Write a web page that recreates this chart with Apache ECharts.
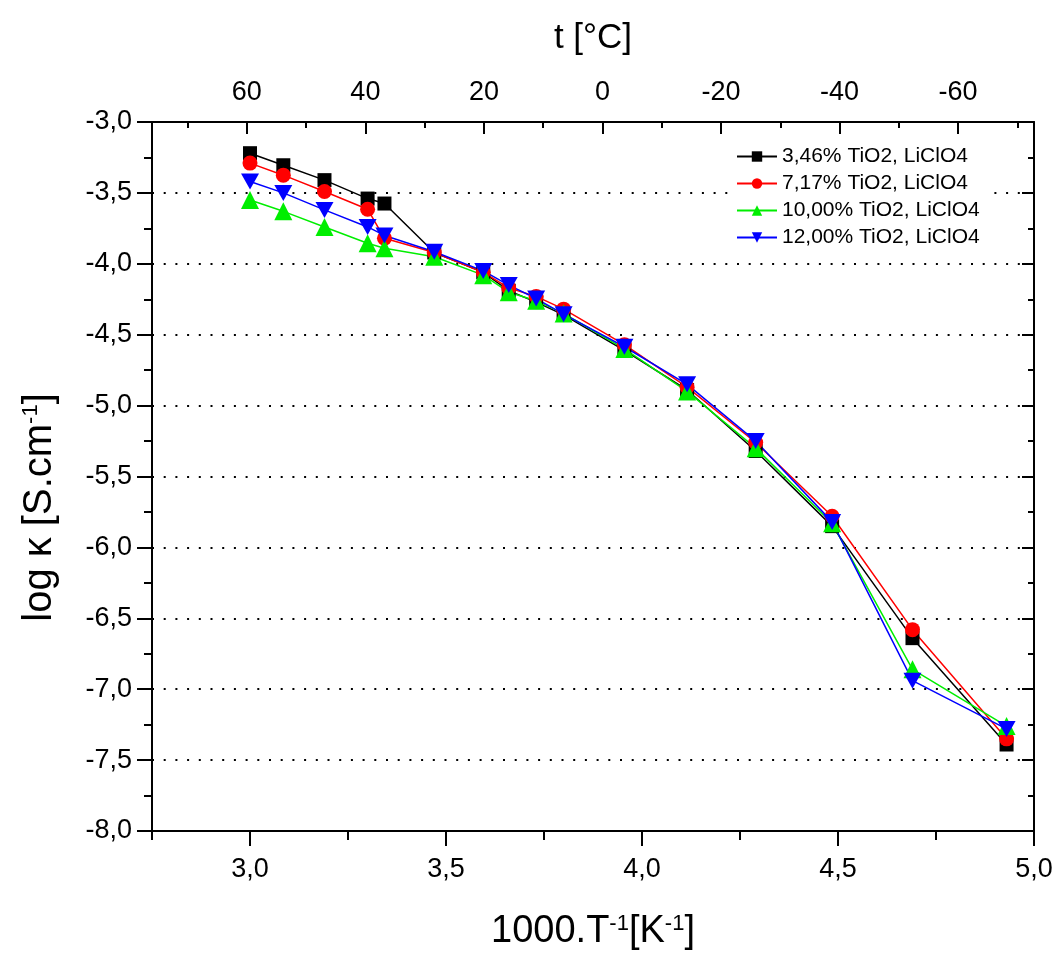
<!DOCTYPE html>
<html>
<head>
<meta charset="utf-8">
<script src="https://cdn.jsdelivr.net/npm/echarts@6/dist/echarts.min.js"></script>
<style>
  html, body { margin: 0; padding: 0; background: #fff; }
  #chart { width: 1058px; height: 956px; }
</style>
</head>
<body>
<div id="chart"></div>
<script>
// 1000/T values (x)
var invT = [3.00, 3.085, 3.19, 3.30, 3.343, 3.47, 3.595, 3.66, 3.73, 3.80, 3.955, 4.115, 4.29, 4.485, 4.69, 4.93];
// log kappa for each composition
var tio2_346 = [-3.22, -3.305, -3.41, -3.54, -3.575, -3.92, -4.06, -4.19, -4.27, -4.36, -4.61, -4.89, -5.32, -5.85, -6.64, -7.39];
var tio2_717 = [-3.29, -3.375, -3.49, -3.615, -3.82, -3.92, -4.06, -4.17, -4.23, -4.32, -4.57, -4.87, -5.26, -5.78, -6.58, -7.35];
var tio2_1000 = [-3.55, -3.63, -3.74, -3.855, -3.89, -3.95, -4.08, -4.20, -4.26, -4.35, -4.60, -4.90, -5.30, -5.83, -6.86, -7.26];
var tio2_1200 = [-3.42, -3.50, -3.62, -3.74, -3.80, -3.915, -4.05, -4.15, -4.245, -4.355, -4.585, -4.85, -5.25, -5.82, -6.94, -7.28];

var seriesNames = ['3,46% TiO2, LiClO4', '7,17% TiO2, LiClO4', '10,00% TiO2, LiClO4', '12,00% TiO2, LiClO4'];

// tick labels
var xTicks = [3.0, 3.5, 4.0, 4.5, 5.0];
var xMinor = [2.75, 3.25, 3.75, 4.25, 4.75];
var tTicks = [60, 40, 20, 0, -20, -40, -60];
var tMinor = [70, 50, 30, 10, -10, -30, -50, -70];

var font = '"Liberation Sans", Arial, sans-serif';

function pairs(ys) {
  return invT.map(function (x, i) { return [x, ys[i]]; });
}
function comma(v) {
  return v.toFixed(1).replace('.', ',');
}

var axisLine = { show: true, onZero: false, lineStyle: { color: '#000', width: 2 } };
var labelStyle = { color: '#000', fontSize: 27, fontFamily: font };
var supRich = {
  sup: { fontSize: 22, fontFamily: font, color: '#000', verticalAlign: 'top', padding: [0, 0, 16, 0] }
};

var downTri = 'path://M0,0 L10,0 L5,9 Z';

var myChart = echarts.init(document.getElementById('chart'));
var option = {
  animation: false,
  backgroundColor: '#fff',
  grid: { left: 152, right: 24, top: 122, bottom: 124 },
  legend: {
    orient: 'vertical',
    left: 730,
    top: 144,
    padding: [2, 6],
    backgroundColor: '#fff',
    itemWidth: 40,
    itemHeight: 13,
    itemGap: 6,
    textStyle: { color: '#000', fontSize: 21, fontFamily: font },
    data: seriesNames
  },
  xAxis: [
    {
      type: 'value', position: 'bottom', min: 2.75, max: 5.0,
      axisLine: axisLine,
      axisTick: { show: true, length: 15, customValues: xTicks, lineStyle: { color: '#000', width: 2 } },
      axisLabel: { customValues: xTicks, margin: 25, formatter: comma, ...labelStyle },
      splitLine: { show: false },
      name: '1000.T{sup|-1}[K{sup|-1}]',
      nameLocation: 'middle',
      nameGap: 82,
      nameTextStyle: { fontSize: 38, fontFamily: font, color: '#000', rich: supRich }
    },
    {
      type: 'value', position: 'bottom', min: 2.75, max: 5.0,
      axisLine: { show: false, onZero: false },
      axisTick: { show: true, length: 9, customValues: xMinor, lineStyle: { color: '#000', width: 2 } },
      axisLabel: { show: false },
      splitLine: { show: false }
    },
    {
      type: 'value', position: 'top', min: -72.8, max: 76, inverse: true,
      axisLine: axisLine,
      axisTick: { show: true, inside: true, length: 12, customValues: tTicks, lineStyle: { color: '#000', width: 2 } },
      axisLabel: { customValues: tTicks, margin: 16, ...labelStyle },
      splitLine: { show: false },
      name: 't [°C]',
      nameLocation: 'middle',
      nameGap: 66,
      nameTextStyle: { fontSize: 35, fontFamily: font, color: '#000' }
    },
    {
      type: 'value', position: 'top', min: -72.8, max: 76, inverse: true,
      axisLine: { show: false, onZero: false },
      axisTick: { show: true, inside: true, length: 6, customValues: tMinor, lineStyle: { color: '#000', width: 2 } },
      axisLabel: { show: false },
      splitLine: { show: false }
    }
  ],
  yAxis: [
    {
      type: 'value', position: 'left', min: -8, max: -3, interval: 0.5,
      axisLine: axisLine,
      axisTick: { show: true, length: 15, lineStyle: { color: '#000', width: 2 } },
      minorTick: { show: true, splitNumber: 2, length: 8, lineStyle: { color: '#000', width: 2 } },
      axisLabel: { margin: 20, formatter: comma, ...labelStyle },
      splitLine: { show: true, lineStyle: { color: '#000', width: 2, type: [2, 9.7] } },
      name: 'log κ [S.cm{sup|-1}]',
      nameLocation: 'middle',
      nameGap: 92,
      nameTextStyle: { fontSize: 40, fontFamily: font, color: '#000', rich: supRich, padding: [0, 62, 0, 0] }
    },
    {
      type: 'value', position: 'right', min: -8, max: -3, interval: 0.5,
      axisLine: axisLine,
      axisTick: { show: true, inside: true, length: 12, lineStyle: { color: '#000', width: 2 } },
      minorTick: { show: true, splitNumber: 2, length: 6, lineStyle: { color: '#000', width: 2 } },
      axisLabel: { show: false },
      splitLine: { show: false }
    }
  ],
  series: [
    {
      name: seriesNames[0], type: 'line', data: pairs(tio2_346),
      symbol: 'rect', symbolSize: 14,
      lineStyle: { color: '#000', width: 1.5 }, itemStyle: { color: '#000' }
    },
    {
      name: seriesNames[1], type: 'line', data: pairs(tio2_717),
      symbol: 'circle', symbolSize: 15,
      lineStyle: { color: '#ff0000', width: 1.5 }, itemStyle: { color: '#ff0000' }
    },
    {
      name: seriesNames[2], type: 'line', data: pairs(tio2_1000),
      symbol: 'triangle', symbolSize: 18,
      lineStyle: { color: '#00ee00', width: 1.5 }, itemStyle: { color: '#00ee00' }
    },
    {
      name: seriesNames[3], type: 'line', data: pairs(tio2_1200),
      symbol: downTri, symbolSize: [18, 16],
      lineStyle: { color: '#0000ff', width: 1.5 }, itemStyle: { color: '#0000ff' }
    }
  ]
};
myChart.setOption(option);
</script>
</body>
</html>
